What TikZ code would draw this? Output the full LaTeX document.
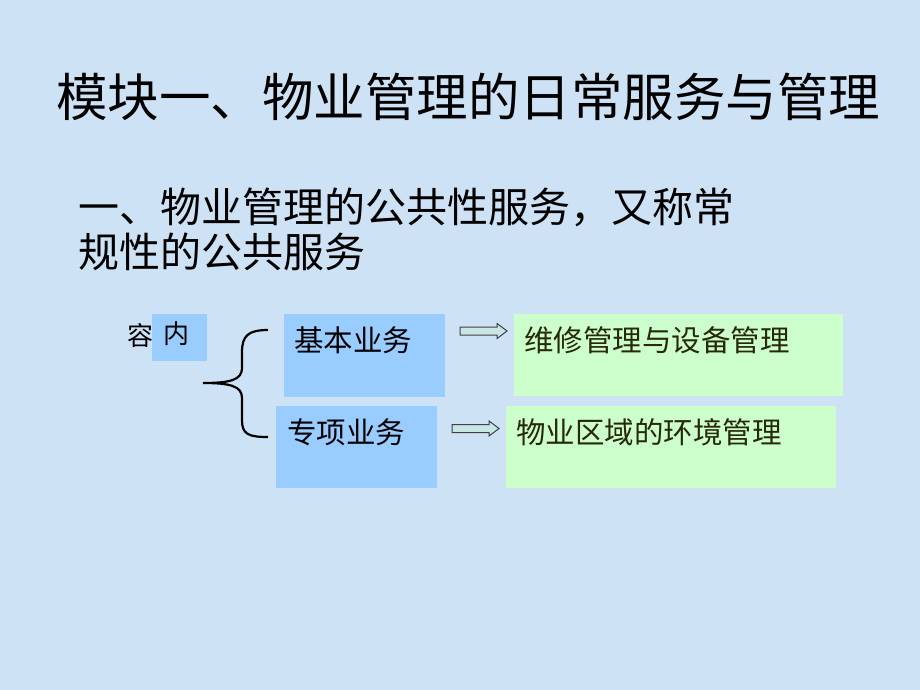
\documentclass[tikz,border=0pt]{standalone}
\usepackage{fontspec}
\newfontfamily\cjk{Noto Sans CJK SC}
\definecolor{bg}{RGB}{206,226,245}
\definecolor{bluebox}{RGB}{153,204,255}
\definecolor{greenbox}{RGB}{204,255,204}
\definecolor{arrowfill}{RGB}{200,230,230}
\definecolor{olive}{RGB}{40,40,10}
\tikzset{
  bbox/.style={fill=bluebox, draw=none, anchor=north west, inner sep=0},
  gbox/.style={fill=greenbox, draw=none, anchor=north west, inner sep=0},
  label/.style={font=\cjk\fontsize{29.5}{33}\selectfont, anchor=west, inner sep=0},
  harrowpath/.style={draw=black!75, fill=arrowfill, line width=1pt, line join=miter}
}
\newcommand{\hollowarrow}[1]{%
  \draw[harrowpath] ($(#1)+(0,-4)$) -- ++(37,0) -- ++(0,-3.5) -- ++(10,7.5) -- ++(-10,7.5) -- ++(0,-3.5) -- ++(-37,0) -- cycle;}
\usetikzlibrary{calc}
\begin{document}
\begin{tikzpicture}[x=1pt,y=-1pt]
\fill[bg] (0,0) rectangle (920,690);
\useasboundingbox (0,0) rectangle (920,690);
% title
\node[font=\cjk\fontsize{51.5}{56}\selectfont, anchor=center, inner sep=0] (title) at (468,97) {模块一、物业管理的日常服务与管理};
% subtitle
\node[font=\cjk\fontsize{41}{45}\selectfont, anchor=west, inner sep=0] (sub1) at (78,207) {一、物业管理的公共性服务，又称常};
\node[font=\cjk\fontsize{41}{45}\selectfont, anchor=west, inner sep=0] (sub2) at (78,252) {规性的公共服务};
% left label
\node[bbox, minimum width=55pt, minimum height=47pt] (neibox) at (152,314) {};
\node[label, font=\cjk\fontsize{26}{30}\selectfont] (rong) at (127,336) {容};
\node[label, font=\cjk\fontsize{26}{30}\selectfont] (nei) at (163,334) {内};
% blue boxes
\node[bbox, minimum width=161pt, minimum height=83pt] (jb) at (284,314) {};
\node[label] (jbt) at (294,340) {基本业务};
\node[bbox, minimum width=161pt, minimum height=82pt] (zx) at (276,406) {};
\node[label] (zxt) at (287,432) {专项业务};
% green boxes
\node[gbox, minimum width=329pt, minimum height=82pt] (wx) at (514,314) {};
\node[label, text=olive] (wxt) at (524,340) {维修管理与设备管理};
\node[gbox, minimum width=330pt, minimum height=82pt] (hj) at (506,406) {};
\node[label, text=olive] (hjt) at (516,432) {物业区域的环境管理};
% arrows
\coordinate (a1) at (460,331);
\coordinate (a2) at (452,428.5);
\hollowarrow{a1}
\hollowarrow{a2}
% brace
\coordinate (bt) at (268,330);
\coordinate (bm) at (203,383);
\coordinate (bb) at (268,437);
\draw[line width=2.2pt, black]
  (bt) .. controls (248,330) and (242,336) .. (242,352)
  -- (242,368) .. controls (242,380) and (230,383) .. (bm)
  (bm) .. controls (230,383) and (242,386) .. (242,398)
  -- (242,420) .. controls (242,434) and (248,437) .. (bb);
\end{tikzpicture}
\end{document}
